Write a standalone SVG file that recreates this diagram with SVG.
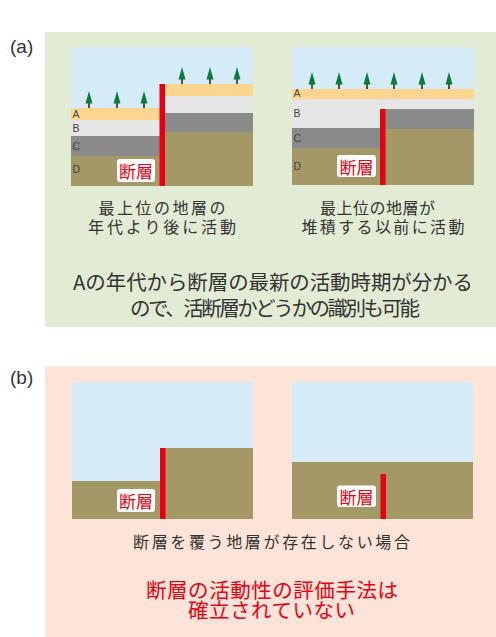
<svg xmlns="http://www.w3.org/2000/svg" width="496" height="637" viewBox="0 0 496 637">
  <defs>
    <style>
      .sky{fill:#d5ebf8}
      .la{fill:#fcd68e}
      .lb{fill:#e6e6e6}
      .lc{fill:#8a8a8a}
      .ld{fill:#a39866}
      .fault{fill:#e60012}
      .lyr{font-family:"Liberation Sans",Arial,sans-serif;font-size:10.5px;fill:#444}
      .tag{font-family:"Noto Sans CJK JP","Noto Sans CJK SC",sans-serif;font-size:17px;fill:#e60012;text-anchor:middle;dominant-baseline:central}
      .tagbox{fill:#fff}
      .cap{font-family:"Noto Sans CJK JP","Noto Sans CJK SC",sans-serif;font-size:16px;fill:#333;text-anchor:middle;dominant-baseline:central}
      .big{font-family:"Noto Sans CJK JP","Noto Sans CJK SC",sans-serif;font-size:20.5px;fill:#333;text-anchor:middle;dominant-baseline:central}
      .red{font-family:"Noto Sans CJK JP","Noto Sans CJK SC",sans-serif;font-size:20.5px;fill:#e60012;text-anchor:middle;dominant-baseline:central}
      .sec{font-family:"Liberation Sans",Arial,sans-serif;font-size:19px;fill:#333;dominant-baseline:central}
    </style>
    <!-- small conifer standing on the ground line at (0,0) -->
    <g id="tree">
      <rect x="-1" y="-5" width="2" height="5" fill="#6b4a2c"/>
      <polygon points="0,-17 3.5,-4.5 -3.5,-4.5" fill="#0b7a3e"/>
    </g>
  </defs>

  <!-- section backgrounds -->
  <rect x="45" y="32" width="451" height="295" fill="#e2ecd5"/>
  <rect x="45" y="366" width="451" height="271" fill="#fde3d8"/>
  <text class="sec" x="10" y="46">(a)</text>
  <text class="sec" x="10" y="377">(b)</text>

  <!-- (a) left: fault cuts all layers -->
  <g id="panel-a1">
    <rect class="sky" x="71" y="47" width="182" height="139"/>
    <rect class="la" x="71" y="108" width="90" height="12"/>
    <rect class="lb" x="71" y="120" width="90" height="16"/>
    <rect class="lc" x="71" y="136" width="90" height="20"/>
    <rect class="ld" x="71" y="156" width="90" height="30"/>
    <rect class="la" x="162" y="84" width="91" height="12"/>
    <rect class="lb" x="162" y="96" width="91" height="17"/>
    <rect class="lc" x="162" y="113" width="91" height="19"/>
    <rect class="ld" x="162" y="132" width="91" height="54"/>
    <use href="#tree" x="89" y="108"/>
    <use href="#tree" x="117" y="108"/>
    <use href="#tree" x="144" y="108"/>
    <use href="#tree" x="182" y="84"/>
    <use href="#tree" x="210" y="84"/>
    <use href="#tree" x="237" y="84"/>
    <text class="lyr" x="72.5" y="118">A</text>
    <text class="lyr" x="72.5" y="132">B</text>
    <text class="lyr" x="72.5" y="150">C</text>
    <text class="lyr" x="72.5" y="173">D</text>
    <rect class="fault" x="159.5" y="84" width="5.5" height="102"/>
    <rect class="tagbox" x="117" y="159" width="38" height="23" rx="3"/>
    <text class="tag" x="136" y="170.5">断層</text>
  </g>

  <!-- (a) right: fault buried under A -->
  <g id="panel-a2">
    <rect class="sky" x="292" y="47" width="182" height="138"/>
    <rect class="la" x="292" y="89" width="182" height="10"/>
    <rect class="lb" x="292" y="99" width="182" height="29"/>
    <rect class="lc" x="292" y="128" width="90" height="20"/>
    <rect class="ld" x="292" y="148" width="90" height="37"/>
    <rect class="lc" x="383" y="109" width="91" height="20"/>
    <rect class="ld" x="383" y="129" width="91" height="56"/>
    <use href="#tree" x="312" y="89"/>
    <use href="#tree" x="339" y="89"/>
    <use href="#tree" x="367" y="89"/>
    <use href="#tree" x="394" y="89"/>
    <use href="#tree" x="422" y="89"/>
    <use href="#tree" x="449" y="89"/>
    <text class="lyr" x="293.5" y="97">A</text>
    <text class="lyr" x="293.5" y="117">B</text>
    <text class="lyr" x="293.5" y="142">C</text>
    <text class="lyr" x="293.5" y="170">D</text>
    <rect class="fault" x="380" y="109" width="5.5" height="76"/>
    <rect class="tagbox" x="337" y="155" width="39" height="22" rx="3"/>
    <text class="tag" x="356.5" y="166">断層</text>
  </g>

  <g id="captions-a">
    <text class="cap" x="162" y="207" textLength="127" lengthAdjust="spacing">最上位の地層の</text>
    <text class="cap" x="162" y="225.5" textLength="148" lengthAdjust="spacing">年代より後に活動</text>
    <text class="cap" x="377.5" y="207" textLength="115" lengthAdjust="spacing">最上位の地層が</text>
    <text class="cap" x="383" y="225.5" textLength="163" lengthAdjust="spacing">堆積する以前に活動</text>
    <text class="big" x="273" y="281" textLength="400" lengthAdjust="spacing">Aの年代から断層の最新の活動時期が分かる</text>
    <text class="big" x="275" y="307" textLength="290" lengthAdjust="spacing">ので、活断層かどうかの識別も可能</text>
  </g>

  <!-- (b) left: offset ground surface -->
  <g id="panel-b1">
    <rect class="sky" x="72" y="382" width="181" height="137"/>
    <rect class="ld" x="72" y="481" width="90" height="38"/>
    <rect class="ld" x="162" y="448" width="91" height="71"/>
    <rect class="fault" x="160" y="448" width="5.5" height="71"/>
    <rect class="tagbox" x="117" y="489" width="38" height="23" rx="3"/>
    <text class="tag" x="136" y="500.5">断層</text>
  </g>

  <!-- (b) right: fault hidden below flat ground -->
  <g id="panel-b2">
    <rect class="sky" x="292" y="382" width="181" height="137"/>
    <rect class="ld" x="292" y="462" width="181" height="57"/>
    <rect class="fault" x="380.5" y="474" width="5.5" height="45"/>
    <rect class="tagbox" x="337" y="485.5" width="39" height="21.5" rx="3"/>
    <text class="tag" x="356.5" y="496">断層</text>
  </g>

  <g id="captions-b">
    <text class="cap" x="271.5" y="541" textLength="277" lengthAdjust="spacing">断層を覆う地層が存在しない場合</text>
    <text class="red" x="272" y="588.5" textLength="252" lengthAdjust="spacing">断層の活動性の評価手法は</text>
    <text class="red" x="271.5" y="608.5" textLength="167" lengthAdjust="spacing">確立されていない</text>
  </g>
</svg>
